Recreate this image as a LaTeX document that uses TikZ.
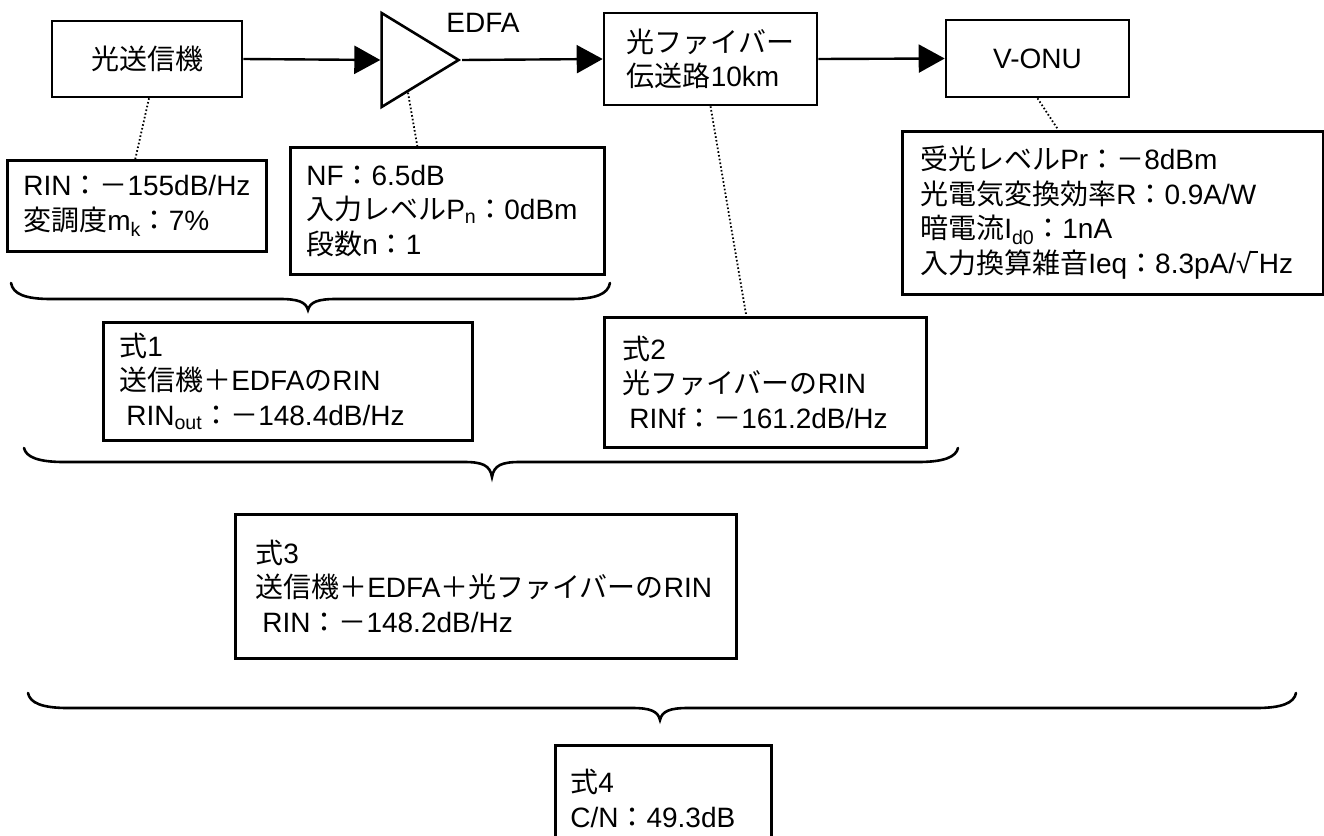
\documentclass[tikz,border=0pt]{standalone}
\usepackage{fontspec}
\setmainfont{Liberation Sans}
\newfontfamily\cjk{Noto Sans CJK JP}
\usetikzlibrary{arrows.meta,shapes.geometric,calc}
\newcommand\J[1]{{\cjk #1}}
\newcommand\sqrtbar{√\kern-0.06em\rule[0.735em]{0.28em}{0.06em}\kern0.04em}
% x0 x1 yend yline ytip xtip
\newcommand\mybrace[6]{%
  \draw[bracestyle] (#1,#3) .. controls ({#1+2},{#4-5}) and ({#1+14},#4) .. ({#1+40},#4)
    -- ({#6-28},#4) .. controls ({#6-10},#4) and ({#6-2},{#4+3}) .. (#6,#5)
    .. controls ({#6+2},{#4+3}) and ({#6+10},#4) .. ({#6+28},#4)
    -- ({#2-40},#4) .. controls ({#2-14},#4) and ({#2-2},{#4-5}) .. (#2,#3);}
\tikzset{
  txt/.style={font=\fontsize{28pt}{34.5pt}\selectfont},
  topbox/.style={txt, draw, line width=2.6pt, inner sep=0pt, align=left},
  infobox/.style={txt, draw, line width=2.6pt, anchor=north west, inner xsep=16pt,
    inner ysep=0pt, align=left},
  amptri/.style={draw, line width=2.6pt, isosceles triangle, isosceles triangle stretches,
    minimum height=77pt, minimum width=94pt, inner sep=0pt, anchor=apex},
  arr/.style={line width=2.4pt, -{Triangle[length=26pt,width=28pt]}},
  dotline/.style={line width=1.8pt, dash pattern=on 1.6pt off 2.2pt},
  bracestyle/.style={line width=2.6pt, line cap=round},
}
\begin{document}
\begin{tikzpicture}[x=1pt,y=-1pt]
\fill[white] (0,0) rectangle (1324,835);
\useasboundingbox (0,0) rectangle (1324,835);

% top row
\node[topbox, minimum width=190pt, minimum height=76pt] (tx) at (147,59) {\J{光送信機}};
\node[amptri] (amp) at (462,60) {};
\node[txt] (edfa) at (483,23) {EDFA};
\node[topbox, minimum width=213pt, minimum height=92pt] (fiber) at (710.5,59) {\J{光ファイバー}\\\J{伝送路}10km};
\node[topbox, minimum width=183pt, minimum height=77pt] (onu) at (1037.5,58.5) {V-ONU};

\draw[arr] (tx.east) -- (amp.lower side);
\draw[arr] (amp.apex) -- (fiber.west);
\draw[arr] (fiber.east) -- (onu.west);

% parameter boxes
\node[infobox, text width=227pt, minimum height=91pt] (rin) at (6,159)
  {RIN\J{：－}155dB/Hz\\\J{変調度}m\textsubscript{k}\J{：}7\%};
\node[infobox, text width=282pt, minimum height=127pt] (nf) at (289,146)
  {NF\J{：}6.5dB\\\J{入力レベル}P\textsubscript{n}\J{：}0dBm\\\J{段数}n\J{：}1};
\node[infobox, text width=385pt, minimum height=163pt, inner xsep=18pt] (onuinfo) at (901,130)
  {\J{受光レベル}Pr\J{：－}8dBm\\\J{光電気変換効率}R\J{：}0.9A/W\\\J{暗電流}I\textsubscript{d0}\J{：}1nA\\\J{入力換算雑音}Ieq\J{：}8.3pA/\sqrtbar Hz};

% result boxes
\node[infobox, text width=337pt, minimum height=118pt] (eq1) at (102,321)
  {\J{式}1\\\J{送信機＋}EDFA\J{の}RIN\\\hspace*{0.25em}RIN\textsubscript{out}\J{：－}148.4dB/Hz};
\node[infobox, text width=286pt, minimum height=130pt, inner xsep=18pt] (eq2) at (603,316)
  {\J{式}2\\\J{光ファイバーの}RIN\\\hspace*{0.25em}RINf\J{：－}161.2dB/Hz};
\node[infobox, text width=461pt, minimum height=144pt, inner xsep=20pt] (eq3) at (234,513)
  {\J{式}3\\\J{送信機＋}EDFA\J{＋光ファイバーの}RIN\\\hspace*{0.25em}RIN\J{：－}148.2dB/Hz};
\node[infobox, text width=186pt, minimum height=106pt, inner xsep=15pt] (eq4) at (554,744)
  {\J{式}4\\C/N\J{：}49.3dB};

% dotted leaders
\draw[dotline] ([xshift=2pt]tx.south) -- ([xshift=-1.5pt]rin.north);
\draw[dotline] (amp.south) -- ([xshift=-30pt]nf.north);
\draw[dotline] (fiber.south) -- ([xshift=-19pt]eq2.north);
\draw[dotline] (onu.south) -- ([xshift=-54.5pt]onuinfo.north);

% braces
\mybrace{11}{610}{283}{299}{310}{308}
\mybrace{24}{958}{448}{462}{477}{492}
\mybrace{28}{1296}{693}{708}{720}{660}
\end{tikzpicture}
\end{document}
